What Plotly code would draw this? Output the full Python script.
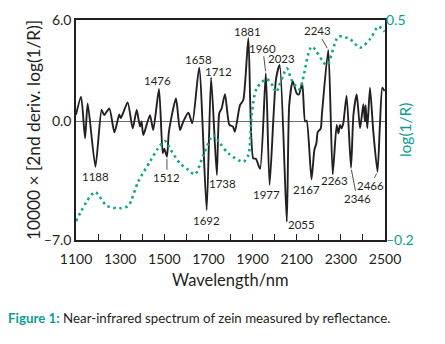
import plotly.graph_objects as go

# ---- data ----
wavelength = [1100, 1123, 1141, 1153, 1188, 1216, 1228, 1251, 1274, 1296, 1303, 1334, 1357, 1375,
              1390, 1397, 1405, 1435, 1450, 1476, 1493, 1500, 1512, 1521, 1553, 1571, 1586, 1609,
              1627, 1658, 1692, 1712, 1738, 1749, 1760, 1775, 1795, 1811, 1820, 1843, 1858, 1881,
              1903, 1915, 1934, 1960, 1977, 2006, 2023, 2055, 2066, 2082, 2100, 2110, 2125, 2138,
              2145, 2167, 2180, 2189, 2195, 2209, 2214, 2243, 2263, 2281, 2289, 2296, 2303, 2311,
              2326, 2346, 2357, 2372, 2387, 2402, 2409, 2412, 2420, 2432, 2447, 2466, 2477, 2488, 2498]
deriv = [0.4, 1.47, -0.99, 1.07, -2.67, 0.68, 0.38, 0.78, -0.64, 0.42, 0.2, 1.13, -0.4, 0.68,
         -0.3, 0.0, -0.8, 0.38, -0.5, 1.92, -1.88, -1.6, -2.08, -0.6, 1.37, -0.5, 0.0, 0.52,
         -0.1, 3.18, -5.23, 2.59, -3.16, 0.48, 0.78, 1.62, -0.2, -0.3, -0.6, 0.97, 1.27, 4.92,
         -2.18, -2.2, -2.8, 2.85, -3.75, 2.5, 3.34, -5.92, 0.97, 2.39, 1.67, 1.6, 2.26, 0.0,
         0.05, -3.42, -1.68, -1.3, -0.64, -0.4, 0.4, 4.23, -3.12, -0.2, -0.7, -0.2, -0.4, -0.1,
         1.52, -2.73, 0.4, 1.6, -0.4, 1.02, 0.0, 0.97, -0.4, 2.0, -0.6, -2.97, -0.2, 2.0, 1.8]

log_wl = [1100, 1186, 1239, 1299, 1337, 1382, 1435, 1470, 1503, 1530, 1571, 1609, 1639, 1677,
          1722, 1752, 1790, 1858, 1881, 1896, 1919, 1964, 1994, 2006, 2055, 2077, 2112, 2168,
          2236, 2289, 2342, 2387, 2432, 2470, 2498]
log_r = [-0.14, -0.048, -0.091, -0.099, -0.091, -0.014, 0.049, 0.09, 0.115, 0.086, 0.044, 0.023,
         0.009, 0.07, 0.134, 0.108, 0.076, 0.049, 0.07, 0.198, 0.283, 0.312, 0.288, 0.27, 0.346,
         0.309, 0.28, 0.415, 0.357, 0.447, 0.439, 0.412, 0.439, 0.479, 0.463]

peak_labels = [1188, 1476, 1512, 1658, 1692, 1712, 1738, 1881, 1960, 1977, 2023, 2055,
               2167, 2243, 2263, 2346, 2466]

x_tick_vals = [1100, 1300, 1500, 1700, 1900, 2100, 2300, 2500]
left_tick_vals = [-7, 0, 6]
left_tick_text = ["\u20137.0", "0.0", "6.0"]
right_tick_vals = [-0.2, 0.5]
right_tick_text = ["\u20130.2", "0.5"]

# label placement (style): (dx px, dy px downwards, leader line)
label_style = {
    1188: (0, 10, False), 1476: (-1, -9, False), 1512: (0, 21, True), 1658: (-1, -8, False),
    1692: (0, 10, False), 1712: (7, -6, False), 1738: (6, 8, False), 1881: (-1, -7, False),
    1960: (-3, -25, True), 1977: (-3, 9, False), 2023: (2, -7, False), 2055: (15, 3, False),
    2167: (-5, 10, False), 2243: (-11, -19, True), 2263: (2, 6, False), 2346: (6, 31, True),
    2466: (-7, 14, True),
}

DARK = "#231f20"
TEAL = "#14a58c"
TEAL_TXT = "#0b9e90"
FONT = "Lato"

fig = go.Figure()
fig.add_trace(go.Scatter(x=log_wl, y=log_r, yaxis="y2", mode="lines",
                         line=dict(color=TEAL, width=2.6, dash="2.5px,3.5px", shape="spline", smoothing=0.8),
                         hoverinfo="skip"))
fig.add_trace(go.Scatter(x=wavelength, y=deriv, mode="lines",
                         line=dict(color=DARK, width=1.9, shape="spline", smoothing=0.6),
                         hoverinfo="skip"))

lookup = dict(zip(wavelength, deriv))
annotations = []
for wl in peak_labels:
    dx, dy, leader = label_style[wl]
    yv = lookup[wl]
    if leader:
        annotations.append(dict(x=wl, y=yv, xref="x", yref="y", text=str(wl), showarrow=True,
                                arrowhead=0, arrowwidth=0.8, arrowcolor=DARK, ax=dx, ay=dy,
                                standoff=2, font=dict(family=FONT, size=11.5, color=DARK)))
    else:
        annotations.append(dict(x=wl, y=yv, xref="x", yref="y", text=str(wl), showarrow=False,
                                xshift=dx, yshift=-dy, font=dict(family=FONT, size=11.5, color=DARK)))

annotations += [
    dict(x=-0.139, y=0.5, xref="paper", yref="paper", xanchor="center", yanchor="middle",
         text="10000 \u00d7 [2nd deriv. log(1/R)]",
         textangle=-90, showarrow=False, font=dict(family=FONT, size=17.3, color=DARK)),
    dict(x=0.497, y=-0.182, xref="paper", yref="paper", xanchor="center", yanchor="middle",
         text="Wavelength/nm", showarrow=False, font=dict(family=FONT, size=16.5, color=DARK)),
    dict(x=1.065, y=0.5, xref="paper", yref="paper", xanchor="center", yanchor="middle",
         text="log(1/R)", textangle=-90,
         showarrow=False, font=dict(family=FONT, size=15.5, color=TEAL_TXT)),
    dict(x=-0.2265, y=-0.3545, xref="paper", yref="paper", xanchor="left", yanchor="middle",
         text="<b>Figure 1:</b> <span style='color:%s'>Near-infrared spectrum of zein measured by reflectance.</span>" % DARK,
         showarrow=False, font=dict(family=FONT, size=13.3, color=TEAL_TXT)),
]

fig.update_layout(
    width=445, height=344,
    margin=dict(l=76, r=60, t=20, b=104),
    paper_bgcolor="white", plot_bgcolor="white",
    showlegend=False,
    font=dict(family=FONT, color=DARK),
    xaxis=dict(range=[1100, 2500], tickmode="array", tickvals=x_tick_vals,
               ticks="inside", ticklen=6, tickwidth=1, tickcolor=DARK, ticklabelstandoff=5,
               minor=dict(ticks="inside", ticklen=6, tickwidth=1, tickcolor=DARK,
                          tickmode="linear", tick0=1100, dtick=100),
               showgrid=False, zeroline=False, showline=True, mirror=True,
               linecolor=DARK, linewidth=1.5, tickfont=dict(family=FONT, size=14, color=DARK)),
    yaxis=dict(range=[-7, 6], tickmode="array", tickvals=left_tick_vals, ticktext=left_tick_text,
               ticks="", showgrid=False, zeroline=True, zerolinecolor="#6d6e70", zerolinewidth=1,
               showline=True, mirror=True, linecolor=DARK, linewidth=1.5,
               tickfont=dict(family=FONT, size=14, color=DARK)),
    yaxis2=dict(range=[-0.2, 0.5], overlaying="y", side="right", tickmode="array",
                tickvals=right_tick_vals, ticktext=right_tick_text, ticks="",
                showgrid=False, zeroline=False, showline=False,
                tickfont=dict(family=FONT, size=14, color=TEAL_TXT)),
    annotations=annotations,
)

fig.write_html("out.html")
